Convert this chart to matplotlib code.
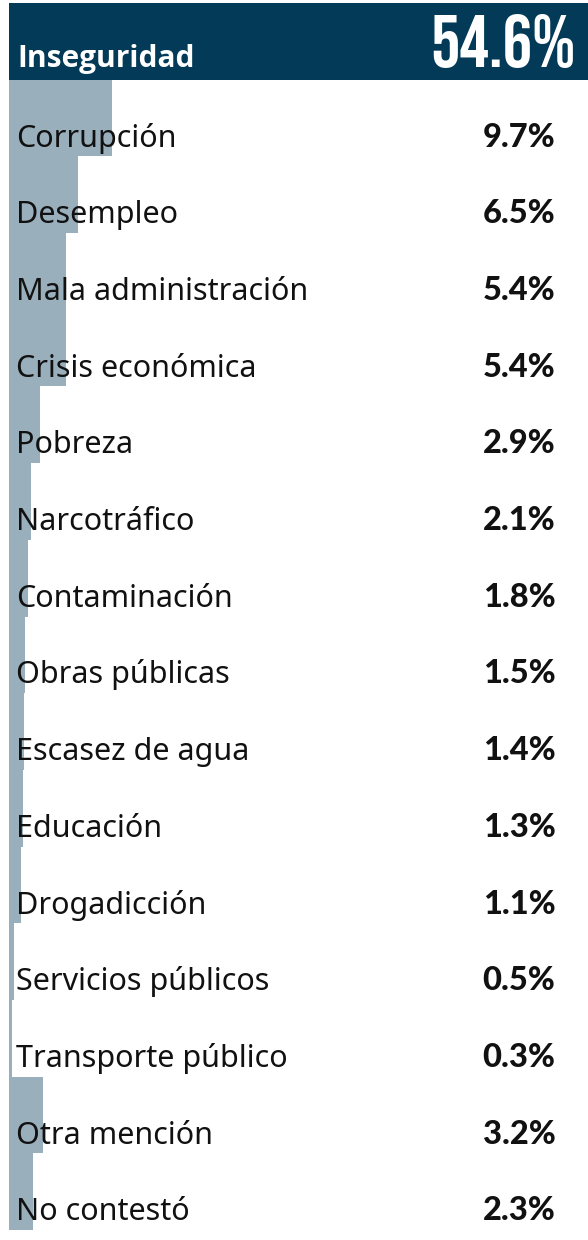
import matplotlib
matplotlib.use("Agg")
import matplotlib.pyplot as plt

# ---- data ----
header_label = "Inseguridad"
header_value = 54.6
header_value_label = "54.6%"
categories = ["Corrupción", "Desempleo", "Mala administración", "Crisis económica",
              "Pobreza", "Narcotráfico", "Contaminación", "Obras públicas",
              "Escasez de agua", "Educación", "Drogadicción", "Servicios públicos",
              "Transporte público", "Otra mención", "No contestó"]
values = [9.7, 6.5, 5.4, 5.4, 2.9, 2.1, 1.8, 1.5, 1.4, 1.3, 1.1, 0.5, 0.3, 3.2, 2.3]
value_labels = ["9.7%", "6.5%", "5.4%", "5.4%", "2.9%", "2.1%", "1.8%", "1.5%",
                "1.4%", "1.3%", "1.1%", "0.5%", "0.3%", "3.2%", "2.3%"]

DARK = "#033a57"
LIGHT = "#9aafbc"
TEXT = "#111111"

fig = plt.figure(figsize=(5.88, 12.4), dpi=100)
ax = fig.add_axes([0, 0, 1, 1])
ax.set_axis_off()

n = len(categories) + 1
ax.set_xlim(-0.85, header_value)
ax.set_ylim(n + 0.13, -0.039)

# header bar
ax.barh([0], [header_value], height=1.0, align="edge", color=DARK, linewidth=0)
# category bars
rows = list(range(1, n))
ax.barh(rows, values, height=1.0, align="edge", color=LIGHT, linewidth=0)

tr = ax.get_yaxis_transform()
ax.text(0.029, 1 - 0.165, header_label, transform=tr, ha="left", va="baseline",
        fontsize=21.5, fontweight="bold", color="white", family=["Open Sans", "DejaVu Sans"])
ax.text(0.979, 1 - 0.165, header_value_label, transform=tr, ha="right", va="baseline",
        fontsize=53, color="white", family=["Bebas Neue", "Oswald", "DejaVu Sans"])

for r, lab, vl in zip(rows, categories, value_labels):
    yb = r + 1 - 0.127
    ax.text(0.027, yb, lab, transform=tr, ha="left", va="baseline",
            fontsize=22, color=TEXT, family=["Noto Sans", "DejaVu Sans"])
    ax.text(0.821, yb, vl, transform=tr, ha="left", va="baseline",
            fontsize=23.5, fontweight=900, color=TEXT, family=["Lato", "DejaVu Sans"])

fig.savefig("out.png", dpi=100)
